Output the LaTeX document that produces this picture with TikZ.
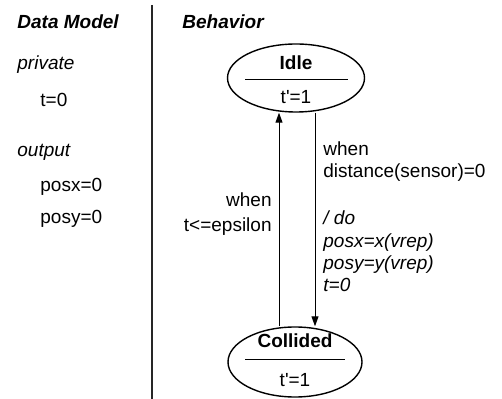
\documentclass[tikz,border=0pt]{standalone}
\usepackage{fontspec}
\setmainfont{Liberation Sans}
\usetikzlibrary{shapes.geometric,arrows.meta,positioning,calc}

\begin{document}
\begin{tikzpicture}[x=0.5pt, y=-0.5pt,
  stateell/.style={ellipse, draw, line width=0.7pt, minimum width=#1, minimum height=34pt, inner sep=0pt},
  txt/.style={anchor=west, inner sep=0pt, font=\fontsize{9.5}{11.2}\selectfont, align=left},
  head/.style={txt, font=\fontsize{9.5}{11.2}\selectfont\bfseries\itshape},
  arr/.style={-{Triangle[length=5pt,width=3.5pt]}, line width=0.5pt}
]
  \useasboundingbox (0,0) rectangle (502,399);
  % divider between the two columns
  \draw[line width=0.8pt, black!85] (152,5) -- (152,399);

  % data model column
  \node[head] (dmhead) at (17,22) {Data Model};
  \node[txt, font=\fontsize{9.5}{11.2}\selectfont\itshape] (priv) at (17,65) {private};
  \node[txt] (tvar) at (40,100) {t=0};
  \node[txt, font=\fontsize{9.5}{11.2}\selectfont\itshape] (outp) at (17,152) {output};
  \node[txt] (posx) at (40,187) {posx=0};
  \node[txt] (posy) at (40,219) {posy=0};

  % behavior column
  \node[head] (bhhead) at (182,22) {Behavior};
  \node[stateell=68.5pt] (idle) at (296,78) {};
  \node[stateell=67pt, minimum height=35pt] (coll) at (295,362) {};
  \node[font=\fontsize{9.5}{11.2}\selectfont\bfseries, inner sep=0pt] (idlename) at (296,63) {Idle};
  \node[font=\fontsize{9.5}{11.2}\selectfont, inner sep=0pt] (idlerate) at (296,97) {t\textquotesingle=1};
  \node[font=\fontsize{9.5}{11.2}\selectfont\bfseries, inner sep=0pt] (collname) at (295,341) {Collided};
  \node[font=\fontsize{9.5}{11.2}\selectfont, inner sep=0pt] (collrate) at (295,380) {t\textquotesingle=1};
  \draw[line width=0.5pt] ([shift={(-51,2)}]idle.center) -- ([shift={(52,2)}]idle.center);
  \draw[line width=0.5pt] ([shift={(-50,-2)}]coll.center) -- ([shift={(50,-2)}]coll.center);

  % transitions
  \draw[arr] ([xshift=-8pt]coll.north) coordinate (u0) -- (u0 |- idle.south);
  \draw[arr] ([xshift=9.5pt]idle.south) coordinate (d0) -- (d0 |- coll.north);

  \node[txt, anchor=east, align=right, font=\fontsize{9.5}{12.5}\selectfont] (back) at (272,214) {when\\t<=epsilon};
  \node[txt] (guard) at (323,161.5) {when\\distance(sensor)=0};
  \node[txt, font=\fontsize{9.5}{11.2}\selectfont\itshape] (act) at (323,251.5) {/ do\\posx=x(vrep)\\posy=y(vrep)\\t=0};
\end{tikzpicture}
\end{document}
